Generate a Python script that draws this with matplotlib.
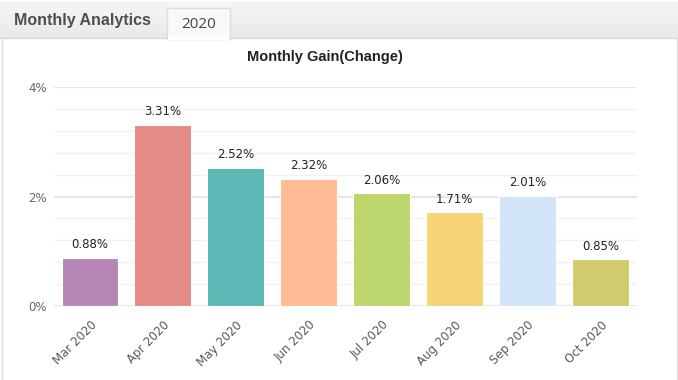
import matplotlib.pyplot as plt
from matplotlib.patches import Rectangle
from matplotlib.colors import LinearSegmentedColormap
from matplotlib.transforms import ScaledTranslation
import numpy as np

# chart data
months = ['Mar 2020', 'Apr 2020', 'May 2020', 'Jun 2020',
          'Jul 2020', 'Aug 2020', 'Sep 2020', 'Oct 2020']
gains = [0.88, 3.31, 2.52, 2.32, 2.06, 1.71, 2.01, 0.85]
bar_colors = ['#B687B5', '#E48A87', '#5CB7B5', '#FFBC95',
              '#BDD76E', '#F7D577', '#D0E5F8', '#D2CB6E']
y_ticks = [0, 2, 4]

W, H = 678, 380
fig = plt.figure(figsize=(W / 100, H / 100), dpi=100)
fig.patch.set_facecolor('white')

# header strip and tab
bg = fig.add_axes([0, 0, 1, 1], zorder=0)
bg.set_xlim(0, W)
bg.set_ylim(H, 0)
bg.axis('off')
grad = np.linspace(0, 1, 40).reshape(-1, 1)
hdr_cmap = LinearSegmentedColormap.from_list('hdr', ['#F6F6F6', '#E9E9E9'])
bg.imshow(grad, extent=[0, W, 38, 1], cmap=hdr_cmap, aspect='auto', zorder=0)
bg.plot([0, W], [38, 38], color='#D8D8D8', lw=1, zorder=1)
bg.add_patch(Rectangle((167, 8), 63, 31, facecolor='#F9F9F9', edgecolor='#DDDDDD', lw=1, zorder=2))
bg.add_patch(Rectangle((168, 37), 61, 3, facecolor='#FFFFFF', edgecolor='none', zorder=3))
bg.plot([1.5, 1.5], [38, H], color='#DDDDDD', lw=1)
bg.plot([676.5, 676.5], [38, H], color='#DDDDDD', lw=1)
bg.text(14, 21, 'Monthly Analytics', fontsize=11.5, fontweight='bold', color='#4F4F4F',
        family='Liberation Sans', va='center', ha='left')
bg.text(199, 24, '2020', fontsize=11, color='#444444', family='Open Sans',
        va='center', ha='center', zorder=4)
bg.text(325, 57, 'Monthly Gain(Change)', fontsize=10.5, fontweight='bold', color='#222222',
        family='Liberation Sans', va='center', ha='center')

# main plot
ax = fig.add_axes([53.5 / W, (H - 306) / H, (637 - 53.5) / W, (306 - 87) / H], zorder=1)
ax.set_facecolor('none')
x = np.arange(len(months))
ax.bar(x, gains, width=0.78, color=bar_colors, edgecolor='white', lw=0.8, zorder=3)
for xi, g in zip(x, gains):
    ax.text(xi, g + 0.12, f'{g:.2f}%', ha='center', va='bottom', fontsize=8.5,
            color='#222222', family='DejaVu Sans')

ax.set_xlim(-0.5, len(months) - 0.5)
ax.set_ylim(0, 4)
ax.set_yticks(y_ticks)
ax.set_yticklabels([f'{t}%' for t in y_ticks], color='#666666', fontsize=8.5, family='DejaVu Sans')
# y labels sit a few px below their gridline in the reference
shift = ScaledTranslation(0, -3 / 100, fig.dpi_scale_trans)
for lbl in ax.get_yticklabels():
    lbl.set_transform(lbl.get_transform() + shift)
ax.set_yticks(np.arange(0, 4.01, 0.4), minor=True)
ax.grid(axis='y', which='major', color='#E6E6E6', lw=1.5, zorder=0)
ax.grid(axis='y', which='minor', color='#F1F1F1', lw=1, zorder=0)
ax.tick_params(axis='y', which='both', length=0, pad=5)
ax.set_xticks(x)
ax.set_xticklabels(months, rotation=45, ha='right', rotation_mode='anchor',
                   color='#5A5A5A', fontsize=8.5, family='DejaVu Sans')
ax.tick_params(axis='x', length=0, pad=9)
for s in ax.spines.values():
    s.set_visible(False)

fig.savefig('out.png', dpi=100)
